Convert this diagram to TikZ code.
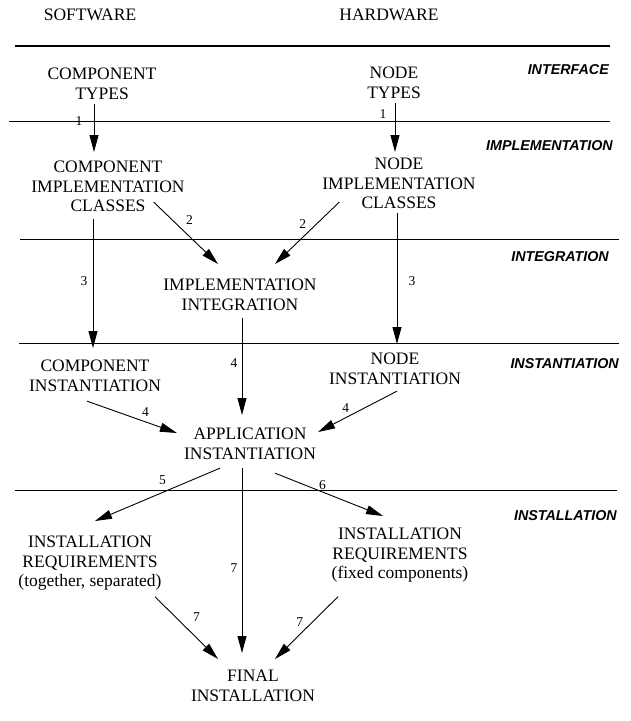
\documentclass[tikz,border=0pt]{standalone}
\usepackage{fontspec}
\setmainfont{Liberation Serif}
\newfontfamily\layerfont{Liberation Sans}
\usetikzlibrary{arrows.meta,calc}

\tikzset{
  box/.style={anchor=north, align=center, inner sep=0pt, font=\fontsize{17.5}{19.5}\selectfont},
  layer/.style={anchor=east, inner sep=0pt, font=\layerfont\bfseries\itshape\fontsize{14.3}{16}\selectfont},
  num/.style={inner sep=0pt, font=\fontsize{13.5}{15}\selectfont},
  sep/.style={line width=0.9pt},
  arr/.style={line width=0.9pt, -{Triangle[length=17pt,width=9pt]}},
}

\begin{document}
\begin{tikzpicture}[x=1pt, y=-1pt]
    \useasboundingbox (0,0) rectangle (630,721);

    \node[box] (soft) at (90,9) {SOFTWARE};
    \node[box] (hard) at (389,9) {HARDWARE};

    % layer lines and names
    \draw[line width=2.4pt] (15,46) -- (610,46);
    \draw[sep] (9,121) -- (610,121);
    \draw[sep] (20,239) -- (619,239);
    \draw[sep] (19,343) -- (619,343);
    \draw[sep] (15,490) -- (617,490);

    \node[layer] (interface) at (609,70) {INTERFACE};
    \node[layer] (implementation) at (613,146) {IMPLEMENTATION};
    \node[layer] (integration) at (609,257) {INTEGRATION};
    \node[layer] (instantiation) at (619,364) {INSTANTIATION};
    \node[layer] (installation) at (617,516) {INSTALLATION};

    \node[box] (ctypes) at (102,68) {COMPONENT\\TYPES};
    \node[box] (ntypes) at (394,67) {NODE\\TYPES};
    \node[box] (cimpl) at (108,161) {COMPONENT\\IMPLEMENTATION\\CLASSES};
    \node[box] (nimpl) at (399,158) {NODE\\IMPLEMENTATION\\CLASSES};
    \node[box] (integ) at (240,279) {IMPLEMENTATION\\INTEGRATION};
    \node[box] (cinst) at (95,360) {COMPONENT\\INSTANTIATION};
    \node[box] (ninst) at (395,353) {NODE\\INSTANTIATION};
    \node[box] (app) at (250,428) {APPLICATION\\INSTANTIATION};
    \node[box] (lreq) at (90,536) {INSTALLATION\\REQUIREMENTS\\(together, separated)};
    \node[box] (rreq) at (400,528) {INSTALLATION\\REQUIREMENTS\\(fixed components)};
    \node[box] (final) at (253,670) {FINAL\\INSTALLATION};

    \draw[arr] ($(ctypes.south)+(-8,4)$) -- ($(cimpl.north)+(-14,-9)$) node[num, pos=0.35, xshift=-15pt] {1};
    \draw[arr] ($(ntypes.south)+(1,4.5)$) -- ($(nimpl.north)+(-4,-6)$) node[num, pos=0.22, xshift=-12pt] {1};

    \draw[arr] ($(cimpl.south east)+(-31,-10)$) -- ($(integ.north)+(-22,-15)$) node[num, pos=0.4, xshift=10pt, yshift=7pt] {2};
    \draw[arr] ($(nimpl.south west)+(17,-7)$) -- ($(integ.north)+(35,-15)$) node[num, pos=0.35, xshift=-14pt] {2};

    \draw[arr] ($(cimpl.south)+(-15,7)$) -- ($(cinst.north)+(-2,-12)$) node[num, pos=0.48, xshift=-9pt] {3};
    \draw[arr] ($(nimpl.south)+(-2,4)$) -- ($(ninst.north)+(2,-9)$) node[num, pos=0.52, xshift=15pt] {3};

    \draw[arr] ($(integ.south)+(2,7.5)$) -- ($(app.north)+(-8,-13)$) node[num, pos=0.46, xshift=-8pt] {4};
    \draw[arr] ($(cinst.south)+(-8,9.5)$) -- ($(app.north west)+(-7,5)$) node[num, pos=0.65, yshift=10pt] {4};
    \draw[arr] ($(ninst.south)+(2,6.5)$) -- ($(app.north east)+(2,4)$) node[num, pos=0.65, yshift=10pt] {4};

    \draw[arr] ($(app.south)+(-30,8.5)$) -- ($(lreq.north)+(5,-15)$) node[num, pos=0.46, yshift=12pt] {5};
    \draw[arr] ($(app.south)+(25,13.5)$) -- ($(rreq.north)+(-17,-12)$) node[num, pos=0.44, yshift=7pt] {6};

    \draw[arr] ($(app.south)+(-8,8.5)$) -- ($(final.north)+(-11,-17)$) node[num, pos=0.54, xshift=-8pt] {7};
    \draw[arr] ($(lreq.south)+(65,6)$) -- ($(final.north)+(-35,-11)$) node[num, pos=0.5, xshift=10pt, yshift=11pt] {7};
    \draw[arr] ($(rreq.south)+(-62,14)$) -- ($(final.north)+(22,-11)$) node[num, pos=0.4, xshift=-13pt] {7};
\end{tikzpicture}
\end{document}
